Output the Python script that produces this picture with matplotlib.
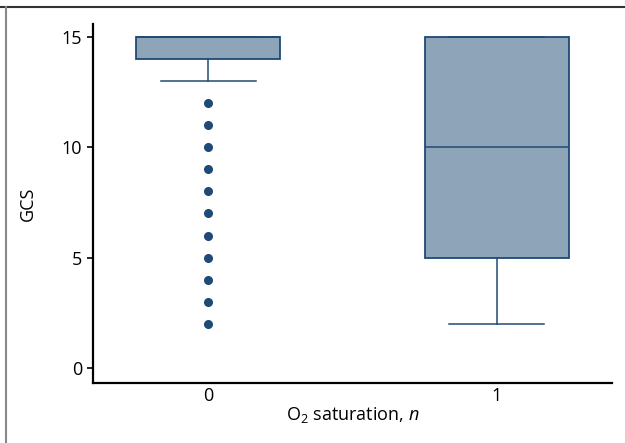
import matplotlib
matplotlib.use('Agg')
from matplotlib import pyplot as plt
from matplotlib.lines import Line2D

plt.rcParams['font.family'] = ['Open Sans', 'DejaVu Sans']
plt.rcParams['mathtext.fontset'] = 'custom'
plt.rcParams['mathtext.rm'] = 'Open Sans'
plt.rcParams['mathtext.it'] = 'Open Sans:italic'

# data
groups = ['0', '1']
q1 = [14, 5]
medians = [15, 10]
q3 = [15, 15]
whislo = [13, 2]
whishi = [15, 15]
fliers = [[2, 3, 4, 5, 6, 7, 8, 9, 10, 11, 12], []]

stats = []
for i in range(len(groups)):
    stats.append({'label': groups[i], 'q1': q1[i], 'med': medians[i], 'q3': q3[i],
                  'whislo': whislo[i], 'whishi': whishi[i], 'fliers': fliers[i]})

edge = '#1f4a75'
fill = '#8ea4b8'

fig = plt.figure(figsize=(6.25, 4.43), dpi=100)
ax = fig.add_axes([0.149, 0.135, 0.830, 0.811])

ax.bxp(stats, positions=[0, 1], widths=0.5, patch_artist=True,
       boxprops=dict(facecolor=fill, edgecolor=edge, linewidth=1.3),
       medianprops=dict(color=edge, linewidth=1.1),
       whiskerprops=dict(color=edge, linewidth=1.1),
       capprops=dict(color=edge, linewidth=1.1),
       capwidths=0.33,
       flierprops=dict(marker='o', markerfacecolor=edge, markeredgecolor=edge, markersize=5.5))

ax.set_xlim(-0.4, 1.4)
ax.set_ylim(-0.7, 15.6)
ax.set_yticks([0, 5, 10, 15])
ax.set_xticks([0, 1])
ax.set_xticklabels(groups)
ax.spines['top'].set_visible(False)
ax.spines['right'].set_visible(False)
ax.spines['left'].set_linewidth(1.6)
ax.spines['bottom'].set_linewidth(1.6)
ax.tick_params(axis='y', length=4, width=1.2, labelsize=13, pad=4)
ax.tick_params(axis='x', length=0, labelsize=13, pad=3)

ax.set_ylabel('GCS', fontsize=13, labelpad=18)
ax.set_xlabel('O$_2$ saturation, $\\it{n}$', fontsize=13, labelpad=0)

# frame lines around the figure
fig.add_artist(Line2D([0, 1], [0.984, 0.984], color='#333333', linewidth=1.5))
fig.add_artist(Line2D([0.0096, 0.0096], [0, 0.984], color='#888888', linewidth=1.5))

plt.savefig('out.png', dpi=100)
